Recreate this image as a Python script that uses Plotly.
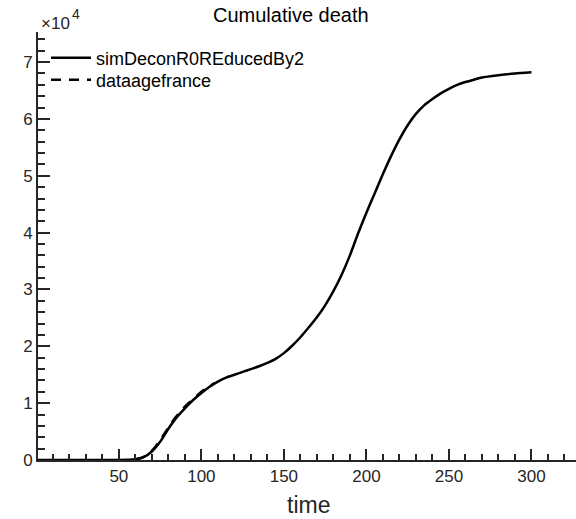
import plotly.graph_objects as go

# Simulated cumulative deaths (model run with R0 reduced by 2)
t_sim = [1, 20, 40, 50, 55, 60, 65, 70, 75, 80, 85, 90, 95, 100, 105, 110,
         115, 120, 125, 130, 135, 140, 145, 150, 155, 160, 165, 170, 175,
         180, 185, 190, 195, 200, 205, 210, 215, 220, 225, 230, 235, 240,
         245, 250, 255, 260, 265, 270, 280, 290, 300]
deaths_sim = [0, 0, 0, 10, 50, 150, 500, 1500, 3200, 5500, 7500, 9100, 10550,
              11800, 12900, 13800, 14500, 15000, 15500, 16000, 16500, 17100,
              17800, 18800, 20100, 21600, 23300, 25100, 27200, 29700, 32600,
              36000, 39900, 43500, 46900, 50300, 53500, 56400, 58900, 60900,
              62400, 63500, 64500, 65300, 66000, 66500, 66900, 67300, 67700,
              68000, 68200]

# Observed cumulative deaths (France, age-structured data)
t_data = [60, 62, 64, 66, 68, 70, 72, 74, 76, 78, 80, 82, 84, 86, 88, 90,
          92, 94, 96, 98, 100, 102, 104, 106, 108]
deaths_data = [100, 200, 400, 700, 1100, 1600, 2300, 3000, 3900, 4800, 5800,
               6600, 7400, 8100, 8800, 9400, 9950, 10500, 11050, 11500, 12000,
               12450, 12850, 13250, 13550]

y_tickvals = [0, 10000, 20000, 30000, 40000, 50000, 60000, 70000]
y_ticktext = ["0", "1", "2", "3", "4", "5", "6", "7"]

AX = "#262626"
FONT = "Liberation Sans, Arial, Helvetica, sans-serif"

W, H = 576, 519
L, R, T, B = 38, 0, 32, 59
pw, ph = W - L - R, H - T - B


def px_x(px):
    return (px - L) / pw


def px_y(py):
    return (H - B - py) / ph


fig = go.Figure()
fig.add_trace(go.Scatter(
    x=t_sim, y=deaths_sim, mode="lines", name="simDeconR0REducedBy2",
    line=dict(color="black", width=2.5, shape="spline", smoothing=0.6),
    legend="legend",
))
fig.add_trace(go.Scatter(
    x=t_data, y=deaths_data, mode="lines", name="dataagefrance",
    line=dict(color="black", width=2.5, dash="10px,8px"),
    legend="legend2",
))

legend_style = dict(
    xanchor="left", yanchor="middle", bgcolor="rgba(0,0,0,0)", borderwidth=0,
    font=dict(size=18, color="black", family=FONT), itemwidth=40,
)

fig.update_layout(
    width=W, height=H,
    margin=dict(l=L, r=R, t=T, b=B),
    paper_bgcolor="white", plot_bgcolor="white",
    font=dict(family=FONT, color=AX, size=17),
    showlegend=True,
    legend=dict(x=px_x(46), y=px_y(58), **legend_style),
    legend2=dict(x=px_x(46), y=px_y(80), **legend_style),
    xaxis=dict(
        range=[1, 327], showgrid=False, zeroline=False,
        showline=True, linewidth=2, linecolor=AX,
        ticks="inside", ticklen=11, tickwidth=2, tickcolor=AX,
        tick0=0, dtick=50,
        tickfont=dict(size=17, color=AX),
        minor=dict(ticks="inside", dtick=10, tick0=0, ticklen=6,
                   tickwidth=2, tickcolor=AX),
    ),
    yaxis=dict(
        range=[0, 75300], showgrid=False, zeroline=False,
        showline=True, linewidth=2, linecolor=AX,
        ticks="inside", ticklen=12, tickwidth=2, tickcolor=AX,
        tickvals=y_tickvals, ticktext=y_ticktext,
        tickfont=dict(size=17, color=AX),
        minor=dict(ticks="inside", dtick=2000, tick0=0, ticklen=7,
                   tickwidth=2, tickcolor=AX),
    ),
    annotations=[
        dict(text="Cumulative death", x=px_x(291), y=px_y(15),
             xref="paper", yref="paper", xanchor="center", yanchor="middle",
             showarrow=False, font=dict(size=20, color="black", family=FONT)),
        dict(text="time", x=px_x(308), y=px_y(505),
             xref="paper", yref="paper", xanchor="center", yanchor="middle",
             showarrow=False, font=dict(size=23, color=AX, family=FONT)),
        dict(text="×10", x=px_x(39), y=px_y(23),
             xref="paper", yref="paper", xanchor="left", yanchor="middle",
             showarrow=False, font=dict(size=17, color=AX, family=FONT)),
        dict(text="4", x=px_x(70), y=px_y(14),
             xref="paper", yref="paper", xanchor="left", yanchor="middle",
             showarrow=False, font=dict(size=14, color=AX, family=FONT)),
    ],
)

fig.write_html("out.html")
